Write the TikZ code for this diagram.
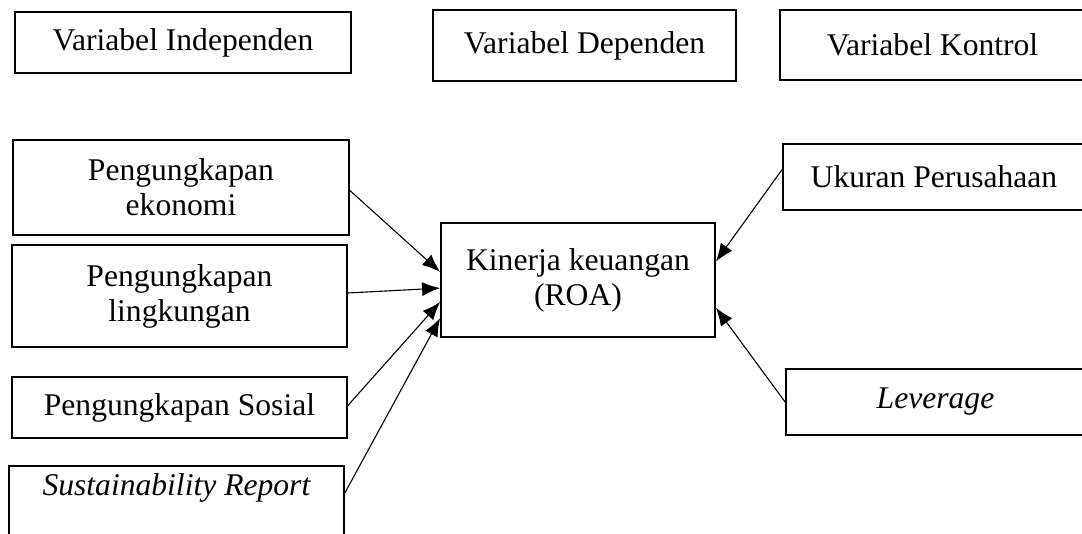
\documentclass[tikz,border=0pt]{standalone}
\usepackage{fontspec}
\setmainfont{Liberation Serif}
\usetikzlibrary{arrows.meta,calc}

\begin{document}
\begin{tikzpicture}[x=0.5pt, y=-0.5pt, >={Latex[length=9pt,width=7pt]},
  box/.style={draw, line width=0.9pt, inner sep=0pt, align=center,
    font=\fontsize{15.8}{17.5}\selectfont},
  link/.style={->, line width=0.55pt}]
  % canvas: 1082 x 534 px, 1 px = 0.5 pt
  \clip (0,0) rectangle (1082,534);

  % Header
  \node[box, minimum width=168pt, minimum height=30.5pt] (vi) at (183,42.5) {Variabel Independen};
  \node[box, minimum width=151.5pt, minimum height=35.5pt] (vd) at (584.5,45.5) {Variabel Dependen};
  \node[box, minimum width=152.5pt, minimum height=35pt] (vk) at (932.5,45) {Variabel Kontrol};

  % Independent variables
  \node[box, minimum width=168pt, minimum height=47.5pt] (eko) at (181,187.5) {Pengungkapan\\ekonomi};
  \node[box, minimum width=167.5pt, minimum height=51pt] (ling) at (179.5,296) {Pengungkapan\\lingkungan};
  \node[box, minimum width=167.5pt, minimum height=30.5pt] (sos) at (179.5,407.5) {Pengungkapan Sosial};
  \node[box, anchor=north west, minimum width=167.5pt, text height=15pt, text depth=35pt]
    (sr) at (8,465) {\itshape Sustainability Report};

  % Dependent variable
  \node[box, minimum width=137pt, minimum height=57pt] (kin) at (578,280) {Kinerja keuangan\\(ROA)};

  % Control variables
  \node[box, minimum width=151pt, minimum height=33pt] (uk) at (934,177) {Ukuran Perusahaan};
  \node[box, minimum width=149.5pt, minimum height=33pt] (lev) at (935.5,402) {\itshape Leverage};

  % Arrows into Kinerja keuangan
  \draw[link] ([yshift=-1.5pt]eko.east) -- ($(kin.north west)!0.43!(kin.south west)$);
  \draw[link] ([yshift=1.5pt]ling.east) -- ($(kin.north west)!0.57!(kin.south west)$);
  \draw[link] ([yshift=1pt]sos.east) -- ($(kin.north west)!0.69!(kin.south west)$);
  \draw[link] ([yshift=-14pt]sr.north east) -- ($(kin.north west)!0.83!(kin.south west)$);
  \draw[link] ($(uk.north west)!0.39!(uk.south west)$) -- ($(kin.north east)!0.34!(kin.south east)$);
  \draw[link] (lev.west) -- ($(kin.north east)!0.74!(kin.south east)$);
\end{tikzpicture}
\end{document}
